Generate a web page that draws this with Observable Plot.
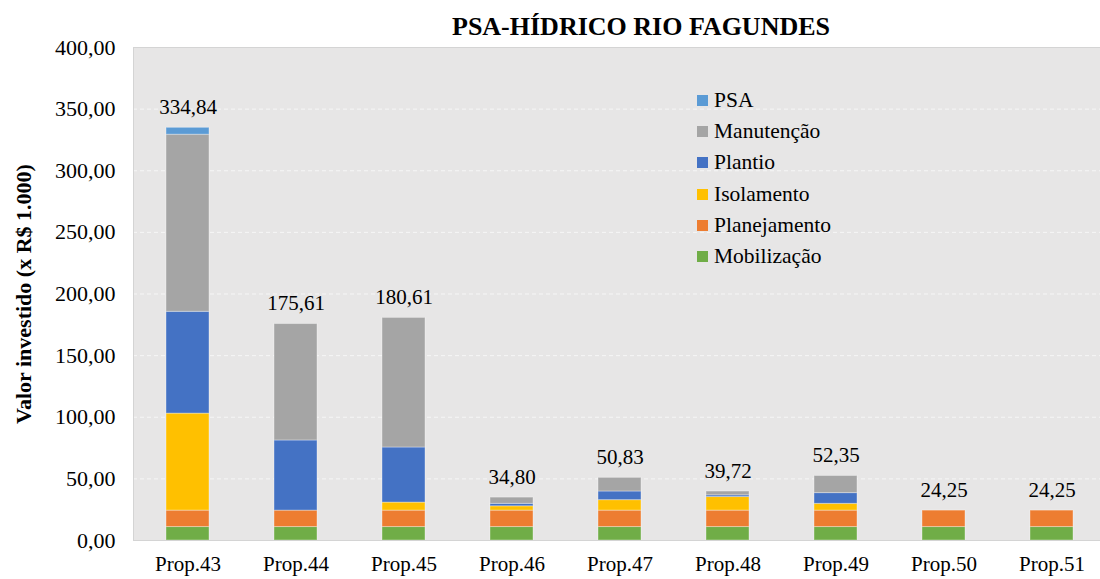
<!DOCTYPE html>
<html><head><meta charset="utf-8">
<script src="https://cdn.jsdelivr.net/npm/d3@7"></script>
<script src="https://cdn.jsdelivr.net/npm/@observablehq/plot@0.6"></script>
<style>
body{margin:0;background:#fff;}
#wrap{position:relative;width:1100px;height:579px;overflow:hidden;}
#wrap svg text{font-family:'Liberation Serif',serif !important;}
#title{position:absolute;left:641px;top:12px;transform:translateX(-50%);white-space:nowrap;font-weight:bold;font-size:26px;color:#000;line-height:30px;}
#legend{position:absolute;left:697px;top:85px;font-size:21.5px;color:#000;}
#legend .row{height:31.2px;display:flex;align-items:center;}
#legend .sw{width:11px;height:11px;margin-right:6px;}
g[aria-label="y-axis label"] text{font-weight:bold;font-size:22px;}
g[aria-label="y-axis tick label"] text{font-size:22px;}
</style></head><body>
<div id="wrap"><div id="title" style="font-family:'Liberation Serif',serif">PSA-HÍDRICO RIO FAGUNDES</div><div id="legend" style="font-family:'Liberation Serif',serif"></div></div>
<script>
const categories = ["Prop.43","Prop.44","Prop.45","Prop.46","Prop.47","Prop.48","Prop.49","Prop.50","Prop.51"];
const series = ["Mobilização","Planejamento","Isolamento","Plantio","Manutenção","PSA"];
const colors = ["#70ad47","#ed7d31","#ffc000","#4472c4","#a5a5a5","#5b9bd5"];
const mobilizacao = [10.9,10.9,10.9,10.9,10.9,10.9,10.9,10.9,10.9];
const planejamento = [13.35,13.35,13.35,13.35,13.35,13.35,13.35,13.35,13.35];
const isolamento = [78.7,0,6.5,3.5,8.5,11.0,5.5,0,0];
const plantio = [82.6,56.9,44.7,2.0,7.0,1.4,8.7,0,0];
const manutencao = [143.7,94.46,105.16,5.05,11.08,3.07,13.9,0,0];
const psa = [5.59,0,0,0,0,0,0,0,0];
const totals = [334.84,175.61,180.61,34.80,50.83,39.72,52.35,24.25,24.25];
const yTicks = [0,50,100,150,200,250,300,350,400];

const seriesValues = [mobilizacao, planejamento, isolamento, plantio, manutencao, psa];
const data = [];
series.forEach((s, i) => categories.forEach((c, j) => data.push({cat: c, series: s, value: seriesValues[i][j]})));
const totalData = categories.map((c, j) => ({cat: c, total: totals[j]}));
const fmt = v => d3.format(".2f")(v).replace(".", ",");

const chart = Plot.plot({
  width: 1100, height: 579,
  marginTop: 47, marginBottom: 39, marginLeft: 133, marginRight: 0,
  style: {fontFamily: "'Liberation Serif', serif", fontSize: "21px", color: "#000", background: "transparent", overflow: "visible"},
  x: {domain: categories, range: [134, 1106], paddingInner: 0.6, paddingOuter: 0.3},
  y: {domain: [0, 400]},
  color: {domain: series, range: colors},
  marks: [
    Plot.frame({fill: "#e7e6e6", stroke: null}),
    Plot.gridY(yTicks.slice(1), {stroke: "#f6f6f6", strokeOpacity: 1, strokeDasharray: "4,3", strokeWidth: 1}),
    Plot.barY(data, {x: "cat", y: "value", fill: "series", order: series, stroke: "#ffffff", strokeOpacity: 0.35, strokeWidth: 1}),
    Plot.frame({stroke: "#d4d4d4", fill: null}),
    Plot.text(totalData, {x: "cat", y: "total", text: d => fmt(d.total), dy: -14, lineAnchor: "bottom", fontSize: 21, fill: "#000"}),
    Plot.axisY(yTicks, {tickSize: 0, tickPadding: 18, tickFormat: fmt, label: "Valor investido (x R$ 1.000)", labelAnchor: "center", labelOffset: 118, labelArrow: "none"}),
    Plot.axisX({tickSize: 0, tickPadding: 16, label: null, fontSize: 21})
  ]
});
chart.setAttribute("font-family", "Liberation Serif, serif");
document.getElementById("wrap").prepend(chart);
chart.style.position = "absolute"; chart.style.left = "0"; chart.style.top = "0";

const legend = document.getElementById("legend");
series.slice().reverse().forEach(s => {
  const row = document.createElement("div"); row.className = "row";
  const sw = document.createElement("span"); sw.className = "sw"; sw.style.background = colors[series.indexOf(s)];
  const t = document.createElement("span"); t.textContent = s;
  row.append(sw, t); legend.append(row);
});
</script></body></html>
